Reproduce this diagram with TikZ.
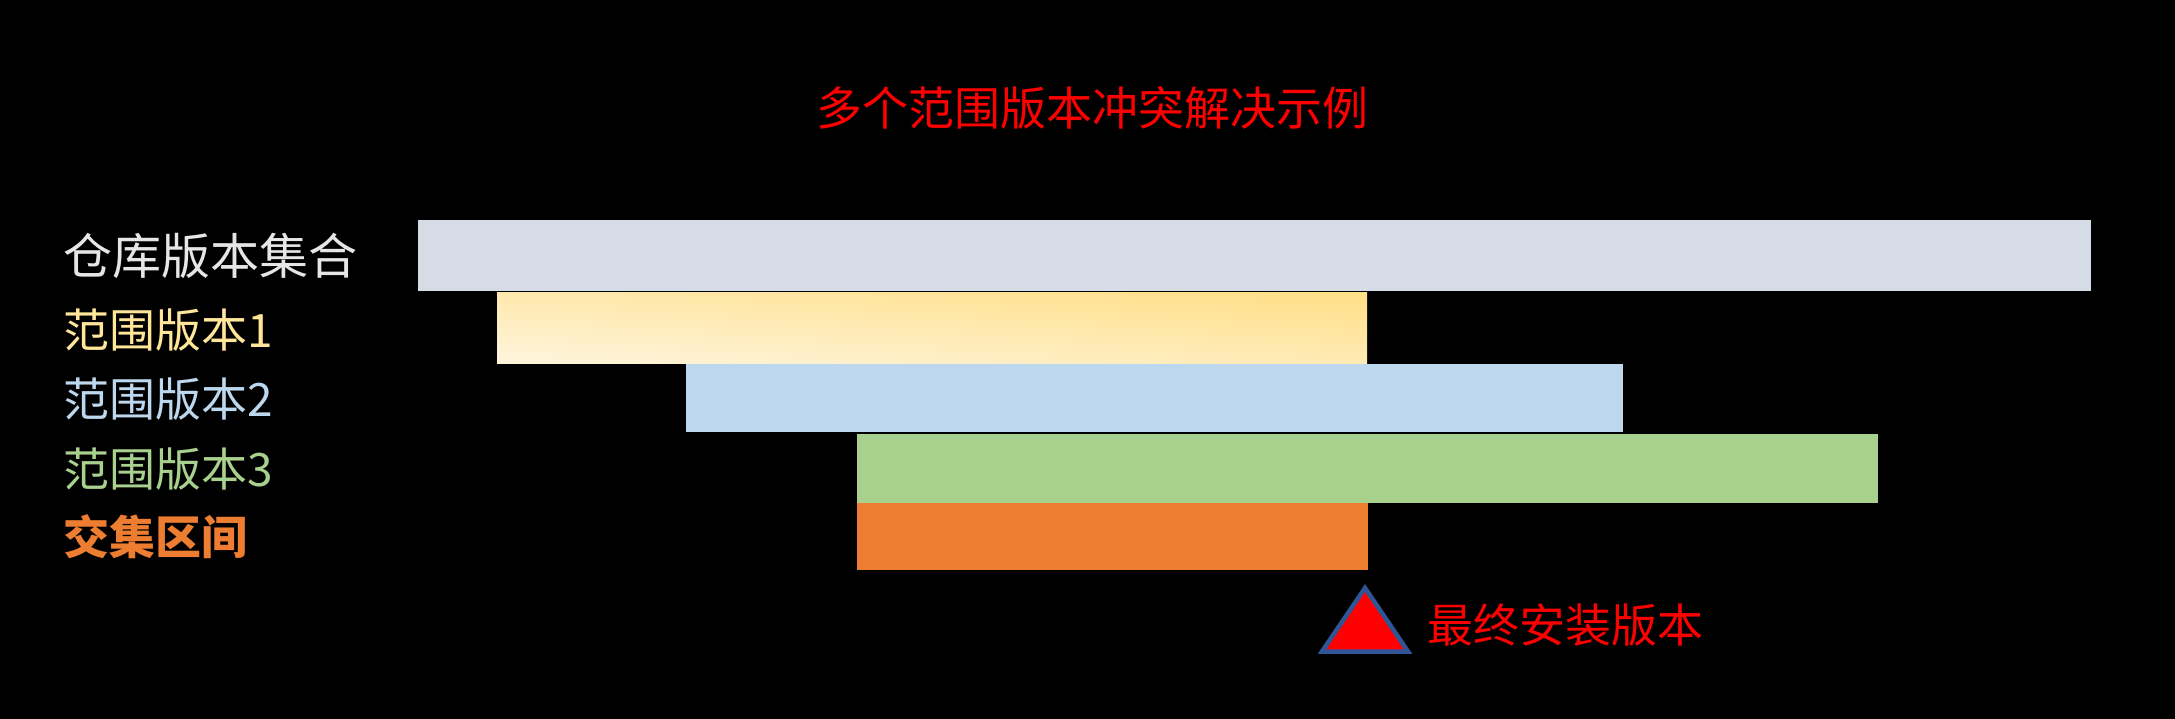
\documentclass[tikz,border=0pt]{standalone}
\usepackage{fontspec}
\setmainfont{Noto Sans CJK SC}
\newfontfamily\cjkfont{Noto Sans CJK SC}
\definecolor{repoC}{HTML}{D6DCE5}
\definecolor{repoT}{HTML}{E7E6E6}
\definecolor{r1T}{HTML}{FFE699}
\definecolor{r1A}{HTML}{FFDF88}
\definecolor{r1B}{HTML}{FFF4DA}
\definecolor{r2C}{HTML}{BDD7EE}
\definecolor{r3C}{HTML}{A9D18E}
\definecolor{isC}{HTML}{ED7D31}
\definecolor{triB}{HTML}{2F5597}
\tikzset{
  lbl/.style={anchor=base west, inner sep=0pt, font=\cjkfont\fontsize{46}{46}\selectfont},
  ttl/.style={anchor=base west, inner sep=0pt, text=red, font=\cjkfont\fontsize{46}{46}\selectfont},
}
\begin{document}
\begin{tikzpicture}[x=1pt,y=-1pt]
\fill[black] (0,0) rectangle (2175,719);
\useasboundingbox (0,0) rectangle (2175,719);
% title
\node[ttl] (title) at (816,126) {多个范围版本冲突解决示例};
% bars
\fill[repoC] (418,220) rectangle (2091,290.5);
\shade[top color=r1A, bottom color=r1B, shading angle=-4] (497,292) rectangle (1367,363);
\fill[r2C] (686,363.5) rectangle (1623,432);
\fill[r3C] (857,434) rectangle (1878,503);
\fill[isC] (857,503) rectangle (1368,570);
% labels
\node[lbl, text=repoT, font=\cjkfont\fontsize{49}{49}\selectfont] (repo) at (63,274) {仓库版本集合};
\node[lbl, text=r1T] (r1) at (63,347) {范围版本1};
\node[lbl, text=r2C] (r2) at (63,416) {范围版本2};
\node[lbl, text=r3C] (r3) at (63,486) {范围版本3};
\node[lbl, text=isC, font=\cjkfont\bfseries\fontsize{46}{46}\selectfont] (is) at (63,554) {交集区间};
% marker
\filldraw[fill=red, draw=triB, line width=4.5pt, line join=miter] (1365,588) -- (1408,651.5) -- (1322,651.5) -- cycle;
\node[ttl] (final) at (1427,642) {最终安装版本};
\end{tikzpicture}
\end{document}
